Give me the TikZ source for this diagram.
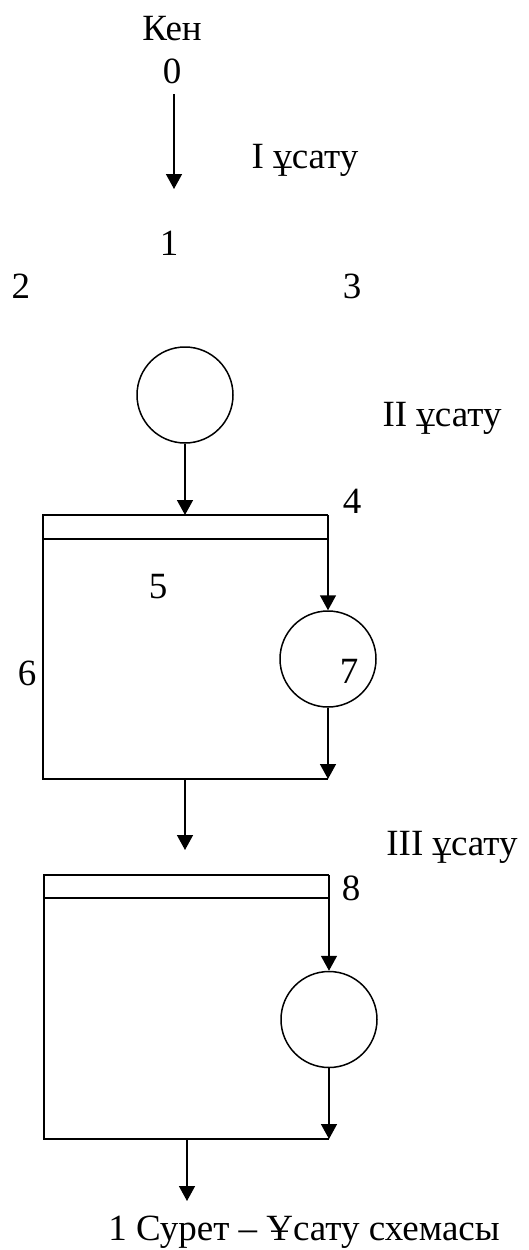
\documentclass[tikz,border=0pt]{standalone}
\usepackage{fontspec}
\setmainfont{Liberation Serif}
\usetikzlibrary{arrows.meta}
\begin{document}
\begin{tikzpicture}[x=1pt,y=-1pt,
  lbl/.style={anchor=base,inner sep=0pt,font=\fontsize{37}{37}\selectfont},
  ln/.style={line width=1.5pt},
  arr/.style={ln,-{Triangle[width=16pt,length=15pt]}},
  circ/.style={circle,draw,line width=1.5pt,minimum size=96pt,inner sep=0pt}]
\useasboundingbox (0,0) rectangle (529,1250);
% labels
\node[lbl] (ken) at (172,40) {Кен};
\node[lbl] (n0) at (172,83) {0};
\node[lbl] (s1) at (305,168) {I ұсату};
\node[lbl] (n1) at (169,255) {1};
\node[lbl] (n2) at (21,298) {2};
\node[lbl] (n3) at (352,298) {3};
\node[lbl] (s2) at (442,426) {II ұсату};
\node[lbl] (n4) at (352,513) {4};
\node[lbl] (n5) at (158,598) {5};
\node[lbl] (n6) at (27,685) {6};
\node[lbl] (s3) at (452,855) {III ұсату};
\node[lbl] (n8) at (351,900) {8};
\node[lbl] (cap) at (304,1240) {1 Сурет – Ұсату схемасы};
% first arrow
\coordinate (a0) at (174,94);
\coordinate (a1) at (174,189);
\draw[arr] (a0) -- (a1);
% circle A
\node[circ] (cA) at (185,395) {};
% block II
\coordinate (b2tl) at (43,515);
\coordinate (b2tr) at (328,515);
\coordinate (b2ml) at (43,539);
\coordinate (b2mr) at (328,539);
\coordinate (b2bl) at (43,779);
\coordinate (b2br) at (328,779);
\coordinate (b2top) at (185,515);
\coordinate (b2bot) at (185,779);
\draw[ln] (b2tr) -- (b2tl) -- (b2bl) -- (b2br);
\draw[ln] (b2ml) -- (b2mr);
\draw[arr] (cA) -- (b2top);
\node[circ] (cB) at (328,659) {};
\node[lbl] (n7) at (349,683) {7};
\draw[arr] (b2tr) -- (cB);
\draw[arr] (cB) -- (b2br);
% arrow to block III
\coordinate (b3in) at (185,850);
\draw[arr] (b2bot) -- (b3in);
% block III
\coordinate (b3tl) at (44,875);
\coordinate (b3tr) at (329,875);
\coordinate (b3ml) at (44,898);
\coordinate (b3mr) at (329,898);
\coordinate (b3bl) at (44,1139);
\coordinate (b3br) at (329,1139);
\coordinate (b3bot) at (187,1139);
\coordinate (out) at (187,1201);
\draw[ln] (b3tr) -- (b3tl) -- (b3bl) -- (b3br);
\draw[ln] (b3ml) -- (b3mr);
\node[circ] (cC) at (329,1019.5) {};
\draw[arr] (b3tr) -- (cC);
\draw[arr] (cC) -- (b3br);
\draw[arr] (b3bot) -- (out);
\end{tikzpicture}
\end{document}
